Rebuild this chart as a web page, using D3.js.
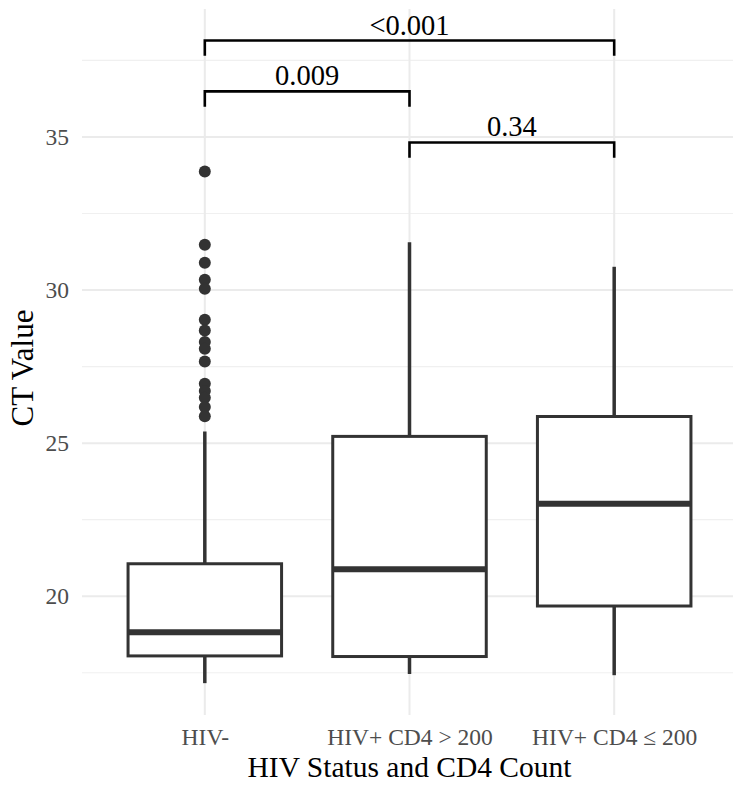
<!DOCTYPE html>
<html>
<head>
<meta charset="utf-8">
<script src="https://cdn.jsdelivr.net/npm/d3@7"></script>
<style>
  html, body { margin: 0; padding: 0; background: #fff; }
  svg { display: block; }
  text { font-family: "Liberation Serif", "Times New Roman", serif; }
</style>
</head>
<body>
<script>
// ---- data ----
const categories = ["HIV-", "HIV+ CD4 > 200", "HIV+ CD4 \u2264 200"];
const whiskerLow  = [17.16, 17.46, 17.42];
const q1          = [18.05, 18.03, 19.68];
const medians     = [18.82, 20.88, 23.02];
const q3          = [21.06, 25.22, 25.87];
const whiskerHigh = [25.38, 31.56, 30.76];
const outliersHIVneg = [33.87, 31.48, 30.89, 30.34, 30.04, 29.03, 28.68, 28.30, 28.08, 27.67, 26.94, 26.70, 26.48, 26.18, 25.88];
const yTicks = [20, 25, 30, 35];
const yMinorTicks = [17.5, 22.5, 27.5, 32.5, 37.5];
const compFrom = [0, 0, 1];
const compTo   = [2, 1, 2];
const compY    = [38.15, 36.49, 34.82];
const compLabels = ["<0.001", "0.009", "0.34"];

// ---- layout ----
const W = 733, H = 785;
const panel = { left: 82, right: 733, top: 9, bottom: 715 };

const svg = d3.select("body").append("svg").attr("width", W).attr("height", H);

const x = d3.scalePoint().domain(categories).range([panel.left, 737]).padding(0.6);
const y = d3.scaleLinear().domain([16.12, 39.18]).range([panel.bottom, panel.top]);
const boxW = x.step() * 0.75;

// grid
const grid = svg.append("g");
grid.selectAll(".minor").data(yMinorTicks).join("line")
  .attr("x1", panel.left).attr("x2", panel.right)
  .attr("y1", d => y(d)).attr("y2", d => y(d))
  .attr("stroke", "#f0f0f0").attr("stroke-width", 1.2);
grid.selectAll(".major").data(yTicks).join("line")
  .attr("x1", panel.left).attr("x2", panel.right)
  .attr("y1", d => y(d)).attr("y2", d => y(d))
  .attr("stroke", "#ebebeb").attr("stroke-width", 2);
grid.selectAll(".vmajor").data(categories).join("line")
  .attr("x1", d => x(d)).attr("x2", d => x(d))
  .attr("y1", panel.top).attr("y2", panel.bottom)
  .attr("stroke", "#ebebeb").attr("stroke-width", 2);

// y axis labels
const yAxis = d3.axisLeft(y).tickValues(yTicks).tickSize(0).tickPadding(13);
const ya = svg.append("g").attr("transform", `translate(${panel.left},0)`).call(yAxis);
ya.select(".domain").remove();
ya.selectAll("text").attr("fill", "#4d4d4d").style("font-size", "23.5px")
  .style("font-family", '"Liberation Serif", serif');

// x axis labels
const xAxis = d3.axisBottom(x).tickSize(0).tickPadding(13);
const xa = svg.append("g").attr("transform", `translate(0,${panel.bottom})`).call(xAxis);
xa.select(".domain").remove();
xa.selectAll("text").attr("fill", "#4d4d4d").style("font-size", "23.5px")
  .style("font-family", '"Liberation Serif", serif');

// boxes
const boxColor = "#333333";
const g = svg.append("g");
categories.forEach((c, i) => {
  const cx = x(c);
  g.append("line").attr("x1", cx).attr("x2", cx)
    .attr("y1", y(q3[i])).attr("y2", y(whiskerHigh[i]))
    .attr("stroke", boxColor).attr("stroke-width", 3.5);
  g.append("line").attr("x1", cx).attr("x2", cx)
    .attr("y1", y(q1[i])).attr("y2", y(whiskerLow[i]))
    .attr("stroke", boxColor).attr("stroke-width", 3.5);
  g.append("rect").attr("x", cx - boxW / 2).attr("width", boxW)
    .attr("y", y(q3[i])).attr("height", y(q1[i]) - y(q3[i]))
    .attr("fill", "#fff").attr("stroke", boxColor).attr("stroke-width", 3);
  g.append("line").attr("x1", cx - boxW / 2).attr("x2", cx + boxW / 2)
    .attr("y1", y(medians[i])).attr("y2", y(medians[i]))
    .attr("stroke", boxColor).attr("stroke-width", 6);
});

// outliers
g.selectAll(".out").data(outliersHIVneg).join("circle")
  .attr("cx", x(categories[0])).attr("cy", d => y(d)).attr("r", 6)
  .attr("fill", boxColor);

// comparison brackets
const tip = 0.5;
compLabels.forEach((lab, i) => {
  const x1 = x(categories[compFrom[i]]), x2 = x(categories[compTo[i]]);
  const yy = y(compY[i]);
  const path = d3.path();
  path.moveTo(x1, y(compY[i] - tip));
  path.lineTo(x1, yy);
  path.lineTo(x2, yy);
  path.lineTo(x2, y(compY[i] - tip));
  svg.append("path").attr("d", path.toString()).attr("fill", "none")
    .attr("stroke", "#000").attr("stroke-width", 2.6);
  svg.append("text").attr("x", (x1 + x2) / 2).attr("y", yy - 6)
    .attr("text-anchor", "middle").style("font-size", "28.5px").attr("fill", "#000")
    .text(lab);
});

// axis titles
svg.append("text").attr("x", (panel.left + panel.right) / 2 + 2).attr("y", 777)
  .attr("text-anchor", "middle").style("font-size", "29.5px").attr("fill", "#000")
  .text("HIV Status and CD4 Count");
svg.append("text")
  .attr("transform", `translate(33,${(panel.top + panel.bottom) / 2 + 6}) rotate(-90)`)
  .attr("text-anchor", "middle").style("font-size", "31px").attr("fill", "#000")
  .text("CT Value");
</script>
</body>
</html>
